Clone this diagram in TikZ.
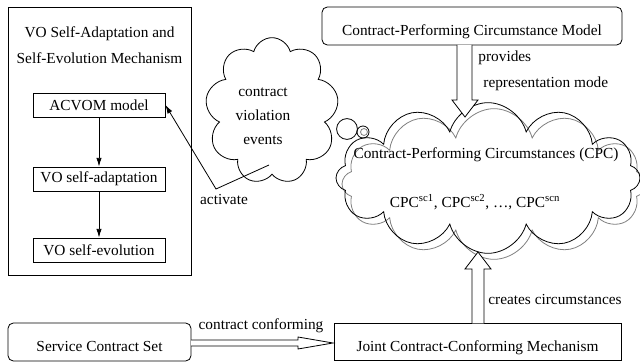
\documentclass[tikz,border=0pt]{standalone}
\usepackage{fontspec}
\setmainfont{Liberation Serif}
\usetikzlibrary{shapes.symbols,arrows.meta}
\begin{document}
\begin{tikzpicture}[x=0.75pt,y=-0.75pt,
  font=\fontsize{11.5}{19.5}\selectfont, line width=0.6pt,
  box/.style={draw, inner sep=0pt},
  inbox/.style={box, minimum width=99pt, minimum height=18pt},
  lowtext/.style={text height=17pt, text depth=2.5pt},
  lbl/.style={inner sep=0pt},
  cl/.style={cloud, draw, cloud ignores aspect, inner sep=0pt},
  arr/.style={-{Latex[length=6.5pt,width=4pt]}},
  block/.style={draw, fill=white, line join=miter}]
\useasboundingbox (0,0) rectangle (640,363);

% left mechanism box
\node[box, minimum width=137.25pt, minimum height=201pt] (outer) at (99.5,141) {};
\node[lbl, align=center] (title) at (99.5,45) {VO Self-Adaptation and\\Self-Evolution Mechanism};
\node[inbox] (acvom) at (99,105) {ACVOM model};
\node[inbox] (adapt) at (99,179) {VO self-adaptation};
\node[inbox] (evol) at (99,250) {VO self-evolution};
\draw[arr] (acvom) -- (adapt);
\draw[arr] (adapt) -- (evol);

% small cloud
\node[cl, cloud puffs=9, minimum width=100pt, minimum height=110pt] (viol) at (272,111) {};
\node[lbl, align=center, font=\fontsize{11.5}{18}\selectfont] (violtxt) at (263,116) {contract\\violation\\events};

% big cloud
\node[cl, draw=gray, cloud puffs=12, minimum width=228pt, minimum height=113pt] (cpcg) at (494,184) {};
\node[cl, cloud puffs=12, minimum width=228pt, minimum height=113pt] (cpc) at (488,178) {};
\node[lbl] (cpct) at (486,155) {Contract-Performing Circumstances (CPC)};
\node[lbl] (cpcs) at (475,202) {CPC\textsuperscript{sc1}, CPC\textsuperscript{sc2}, \dots, CPC\textsuperscript{scn}};

% thought bubbles
\draw (347,129) circle[radius=7.8pt];
\draw (363,132) circle[radius=4.5pt];
\draw[gray] (364,132) circle[radius=2.6pt];

% activate connector
\coordinate (vstart) at (269,165);
\coordinate (vcorner) at (216,189);
\draw[arr] (vstart) -- (vcorner) -- (acvom.east);
\node[lbl] (act) at (224,200) {activate};

% top model box
\node[box, rounded corners=4pt, minimum width=225pt, minimum height=28.5pt, lowtext] (model) at (472,26) {Contract-Performing Circumstance Model};
\draw[block] (457,45) -- (457,100) -- (452,100) -- (465,117) -- (478,100) -- (472,100) -- (472,45);
\node[lbl, anchor=west] (prov) at (478,58) {provides};
\node[lbl, anchor=west] (repr) at (483,84) {representation mode};

% bottom boxes
\node[box, rounded corners=4pt, minimum width=137.25pt, minimum height=28.5pt, lowtext] (scs) at (99.5,342) {Service Contract Set};
\node[box, minimum width=215.25pt, minimum height=27.75pt, lowtext] (joint) at (477.5,342) {Joint Contract-Conforming Mechanism};
\draw[block] (191,340) -- (298,340) -- (298,337) -- (333,343) -- (298,349) -- (298,346) -- (191,346);
\node[lbl] (conf) at (261,326) {contract conforming};
\draw[block] (472,323.5) -- (472,269) -- (465,269) -- (478,252) -- (491,269) -- (484,269) -- (484,323.5);
\node[lbl] (creat) at (555,300) {creates circumstances};
\end{tikzpicture}
\end{document}
